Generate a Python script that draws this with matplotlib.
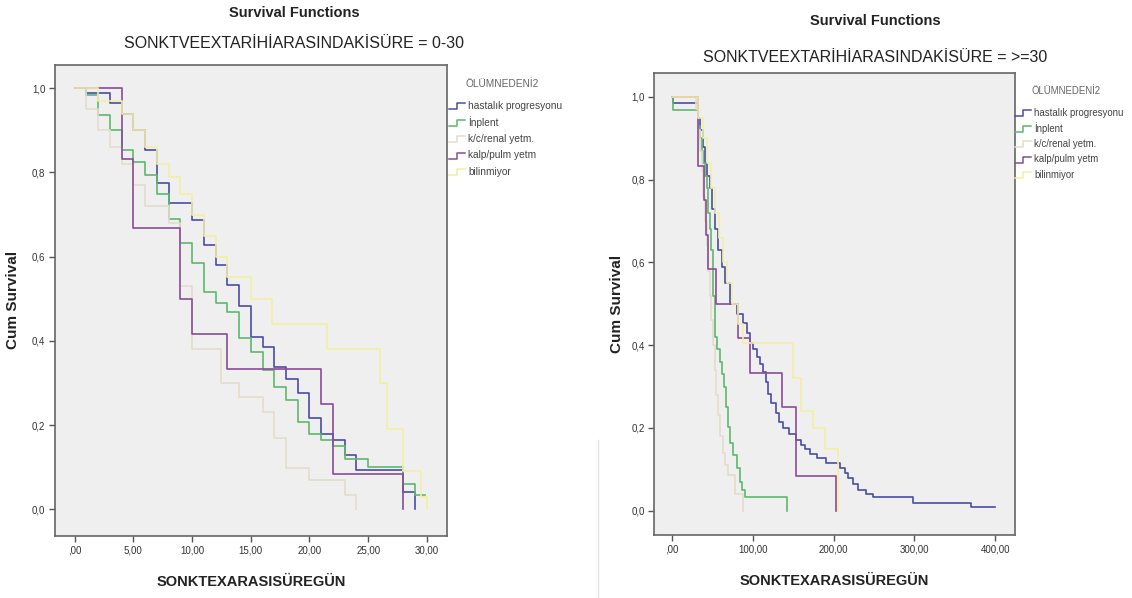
import matplotlib
matplotlib.use("Agg")
import matplotlib.pyplot as plt
from matplotlib.lines import Line2D

plt.rcParams['font.family'] = ['Liberation Sans', 'DejaVu Sans']

W, H = 1132, 598

# --- data: left panel (0-30 days) ---
blue_L_t = [0, 1, 3, 4, 5, 6, 7, 8, 10, 11, 12, 13, 14, 15, 16, 17, 18, 19, 20, 21, 22, 23, 24, 28, 29]
blue_L_s = [1.0, .988, .964, .94, .90, .853, .774, .727, .687, .628, .58, .533, .483, .41, .386, .339, .31,
            .276, .216, .18, .165, .13, .093, .04, 0]
green_L_t = [0, 1, 2, 3, 4, 5, 6, 7, 8, 9, 10, 11, 12, 13, 14, 15, 16, 17, 18, 19, 20, 21, 22, 23, 25, 28, 29, 29.8]
green_L_s = [1.0, .984, .937, .90, .853, .826, .794, .75, .69, .632, .584, .517, .49, .469, .406, .374, .331,
             .291, .26, .208, .18, .165, .15, .12, .10, .06, .034, .034]
beige_L_t = [0, 1, 2, 3, 4, 5, 6, 8, 9, 10, 12.5, 14, 16, 17, 18, 20, 23, 24]
beige_L_s = [1.0, .95, .90, .86, .82, .77, .72, .68, .53, .38, .30, .267, .232, .169, .097, .07, .034, 0]
purple_L_t = [0, 4, 5, 9, 10, 13, 21, 22, 28]
purple_L_s = [1.0, .833, .667, .5, .417, .333, .25, .083, 0]
yellow_L_t = [0, 2, 4, 5, 6, 7, 8, 9, 10, 11, 12, 13, 15, 16.8, 21.5, 26, 26.6, 28, 29.5, 30]
yellow_L_s = [1.0, .97, .94, .90, .86, .82, .79, .75, .70, .65, .60, .552, .50, .44, .38, .30, .19, .09, .03, 0]

# --- data: right panel (>=30 days) ---
blue_R_t = [0, 2, 33, 35, 38, 41, 44, 47, 50, 53, 57, 62, 66, 72, 80, 88, 93, 97, 101, 105, 109, 113, 116, 119,
            123, 129, 133, 138, 145, 154, 160, 165, 171, 180, 191, 208, 214, 218, 224, 230, 240, 249, 298, 370, 400]
blue_R_s = [1.0, .985, .95, .92, .88, .84, .81, .78, .73, .68, .63, .59, .55, .50, .475, .453, .43, .405, .39,
            .372, .355, .336, .31, .283, .26, .235, .215, .199, .185, .17, .158, .148, .138, .126, .114, .102,
            .09, .078, .064, .05, .04, .033, .019, .009, .009]
green_R_t = [0, 1, 33, 35, 37, 39, 41, 43, 45, 47, 49, 51, 53, 56, 60, 62, 64, 67, 70, 72, 76, 80, 84, 87, 90.5, 142]
green_R_s = [1.0, .968, .93, .90, .87, .84, .81, .78, .72, .68, .63, .52, .42, .39, .36, .33, .30, .25, .203,
             .163, .135, .102, .07, .05, .033, 0]
beige_R_t = [0, 30, 33, 35, 37, 39, 41, 43, 45, 47, 49, 51, 53, 55, 57, 60, 63, 66, 70, 78, 88]
beige_R_s = [1.0, .97, .92, .87, .82, .76, .70, .64, .58, .52, .46, .40, .34, .28, .23, .18, .14, .11, .085, .04, 0]
purple_R_t = [0, 33, 40, 42, 45, 55, 82, 97, 136, 154, 203]
purple_R_s = [1.0, .833, .75, .667, .583, .5, .417, .333, .25, .083, 0]
yellow_R_t = [0, 33, 38, 43, 48, 53, 58, 63, 68, 75, 82, 88, 150, 160, 175, 190, 205]
yellow_R_s = [1.0, .95, .90, .84, .78, .72, .66, .60, .55, .50, .45, .405, .32, .24, .20, .15, 0]

groups = ['hastalık progresyonu', 'İnplent', 'k/c/renal yetm.', 'kalp/pulm yetm', 'bilinmiyor']
colors = ['#4a4ca6', '#5cb86c', '#e4dccb', '#8a4c96', '#f2eea4']
legend_title = 'ÖLÜMNEDENİ2'

left_ticks = [0, 5, 10, 15, 20, 25, 30]
left_ticklabels = [',00', '5,00', '10,00', '15,00', '20,00', '25,00', '30,00']
right_ticks = [0, 100, 200, 300, 400]
right_ticklabels = [',00', '100,00', '200,00', '300,00', '400,00']
y_ticks = [0, 0.2, 0.4, 0.6, 0.8, 1.0]
y_ticklabels = ['0,0', '0,2', '0,4', '0,6', '0,8', '1,0']


def fx(px):
    return px / W


def fy(py):
    return 1 - py / H


fig = plt.figure(figsize=(W / 100, H / 100), dpi=100)
fig.patch.set_facecolor('white')


def panel(box, xlim, ylim, curves, xticks, xticklabels, subtitle, title_xy, sub_xy,
          leg_x, leg_y0, leg_dy, leg_fs, ylab_x):
    l, t, r, b = box
    ax = fig.add_axes([fx(l), fy(b), fx(r) - fx(l), (b - t) / H])
    ax.set_facecolor('#efefef')
    for (tt, ss), c in zip(curves, colors):
        ax.step(tt, ss, where='post', color=c, lw=1.2)
    ax.set_xlim(*xlim)
    ax.set_ylim(*ylim)
    ax.set_xticks(xticks)
    ax.set_xticklabels(xticklabels, fontsize=7, color='#333333')
    ax.set_yticks(y_ticks)
    ax.set_yticklabels(y_ticklabels, fontsize=7, color='#333333')
    ax.tick_params(direction='out', length=4, width=1, color='#555555', pad=3)
    for s in ax.spines.values():
        s.set_color('#666666')
        s.set_linewidth(1.2)
    ax.set_xlabel('SONKTEXARASISÜREGÜN', fontsize=10.5, fontweight='bold', color='#222222', labelpad=14)
    ax.set_ylabel('Cum Survival', fontsize=11, fontweight='bold', color='#222222')
    ax.yaxis.set_label_coords((ylab_x - l) / (r - l), 0.5)
    fig.text(fx(title_xy[0]), fy(title_xy[1]), 'Survival Functions', ha='center', va='center',
             fontsize=10.5, fontweight='bold', color='#222222')
    fig.text(fx(sub_xy[0]), fy(sub_xy[1]), subtitle, ha='center', va='center',
             fontsize=11.5, color='#222222')
    # legend
    fig.text(fx(leg_x + 17), fy(leg_y0 - 22), legend_title, ha='left', va='center',
             fontsize=leg_fs, color='#666666')
    for i, (g, c) in enumerate(zip(groups, colors)):
        y = leg_y0 + i * leg_dy
        xs = [fx(leg_x), fx(leg_x + 8), fx(leg_x + 8), fx(leg_x + 16)]
        ys = [fy(y + 3), fy(y + 3), fy(y - 3), fy(y - 3)]
        fig.add_artist(Line2D(xs, ys, transform=fig.transFigure, color=c, lw=1.1))
        fig.text(fx(leg_x + 19), fy(y), g, ha='left', va='center', fontsize=leg_fs, color='#444444')
    return ax


left_curves = [(blue_L_t, blue_L_s), (green_L_t, green_L_s), (beige_L_t, beige_L_s),
               (purple_L_t, purple_L_s), (yellow_L_t, yellow_L_s)]
right_curves = [(blue_R_t, blue_R_s), (green_R_t, green_R_s), (beige_R_t, beige_R_s),
                (purple_R_t, purple_R_s), (yellow_R_t, yellow_R_s)]

panel((55, 65, 446.6, 535.5), (-1.68, 31.68), (-0.0622, 1.0553), left_curves,
      left_ticks, left_ticklabels, 'SONKTVEEXTARİHİARASINDAKİSÜRE = 0-30',
      (294, 13), (294, 43), 449, 106, 16.5, 7.3, 20)
panel((654.4, 73, 1014.7, 535), (-21.5, 423.9), (-0.059, 1.058), right_curves,
      right_ticks, right_ticklabels, 'SONKTVEEXTARİHİARASINDAKİSÜRE = >=30',
      (875, 21), (875, 58), 1015, 113, 15.5, 6.9, 624)

# faint separator from the screenshot
fig.add_artist(Line2D([fx(598), fx(598)], [fy(440), fy(598)], transform=fig.transFigure,
                      color='#e4e4e4', lw=1))

fig.savefig('out.png', dpi=100)
